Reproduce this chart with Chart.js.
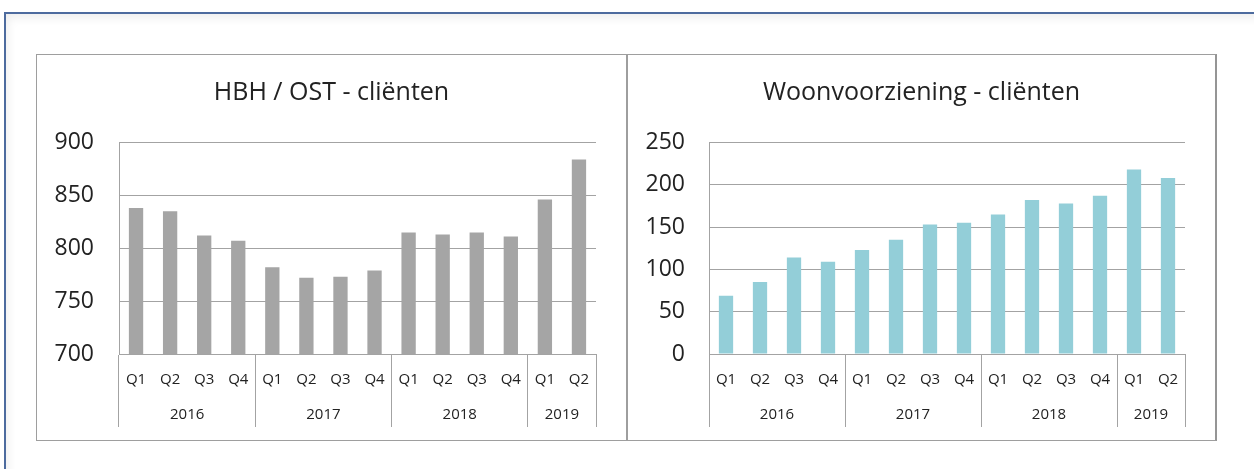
<!DOCTYPE html>
<html>
<head>
<meta charset="utf-8">
<script src="https://cdn.jsdelivr.net/npm/chart.js@4"></script>
<style>
  html, body { margin: 0; padding: 0; background: #fff; width: 1254px; height: 469px; overflow: hidden; }
  .frame {
    position: absolute; left: 4px; top: 12px; width: 1300px; height: 500px;
    border-top: 2px solid #4d6b9e; border-left: 2px solid #4d6b9e;
    box-shadow: inset 6px 8px 10px -4px rgba(0,0,0,0.07);
  }
  .box { position: absolute; top: 54px; height: 385px; border: 1px solid #9e9e9e; background: #fff; }
  #boxLeft { left: 36px; width: 589px; }
  #boxRight { left: 627px; width: 587px; border-right: 2px solid #959595; }
  canvas { display: block; }
</style>
</head>
<body>
<div class="frame"></div>
<div class="box" id="boxLeft"><canvas id="hbh" width="589" height="385"></canvas></div>
<div class="box" id="boxRight"><canvas id="woon" width="587" height="385"></canvas></div>
<script>
// data
const quarters = ["Q1", "Q2", "Q3", "Q4", "Q1", "Q2", "Q3", "Q4", "Q1", "Q2", "Q3", "Q4", "Q1", "Q2"];
const years = ["2016", "2017", "2018", "2019"];
const quartersPerYear = [4, 4, 4, 2];
const hbhValues = [838, 835, 812, 807, 782, 772, 773, 779, 815, 813, 815, 811, 846, 884];
const woonValues = [69, 85, 114, 109, 123, 135, 153, 155, 165, 182, 178, 187, 218, 208];

const gridGray = "#a3a3a3";
const textColor = "#222";
Chart.defaults.font.family = "'Open Sans', sans-serif";

// group boundaries (indices) and year centres on the category axis
const boundaries = [0];
const yearCenters = [];
quartersPerYear.forEach((n) => {
  const start = boundaries[boundaries.length - 1];
  yearCenters.push(start + (n - 1) / 2);
  boundaries.push(start + n);
});

const makeChart = (id, title, values, color, yMin, yMax, yWidth, yPad) => {
  return new Chart(document.getElementById(id), {
    type: "bar",
    data: {
      labels: quarters,
      datasets: [
        {
          label: title,
          data: values,
          backgroundColor: color,
          barPercentage: 0.42,
          categoryPercentage: 1,
        },
      ],
    },
    options: {
      responsive: false,
      animation: false,
      devicePixelRatio: 1,
      layout: { padding: 0 },
      plugins: {
        legend: { display: false },
        tooltip: { enabled: false },
        title: {
          display: true,
          text: title,
          color: textColor,
          font: { size: 25, weight: "normal" },
          padding: { top: 23, bottom: 34.5 },
        },
      },
      scales: {
        x: {
          type: "category",
          position: "bottom",
          weight: 0,
          grid: {
            offset: true,
            drawOnChartArea: false,
            drawTicks: true,
            tickLength: 73,
            color: (ctx) =>
              ctx.index === undefined || boundaries.includes(ctx.index) ? gridGray : "rgba(0,0,0,0)",
          },
          border: { display: true, color: gridGray },
          ticks: { color: textColor, font: { size: 15 }, padding: -56, autoSkip: false, maxRotation: 0 },
          afterFit: (s) => { s.height = 40; },
        },
        x2: {
          type: "linear",
          position: "bottom",
          weight: 1,
          offset: false,
          min: -0.5,
          max: quarters.length - 0.5,
          grid: { display: false, offset: false },
          border: { display: false },
          afterBuildTicks: (s) => { s.ticks = yearCenters.map((v) => ({ value: v })); },
          ticks: {
            color: textColor,
            font: { size: 15 },
            padding: 4,
            autoSkip: false,
            maxRotation: 0,
            callback: (v, i) => years[i],
          },
          afterFit: (s) => { s.height = 46; },
        },
        y: {
          min: yMin,
          max: yMax,
          grid: { color: gridGray, drawTicks: false },
          border: { display: true, color: gridGray },
          ticks: { stepSize: 50, color: textColor, font: { size: 23 }, padding: yPad },
          afterFit: (s) => { s.width = yWidth; },
        },
        yR: {
          type: "linear",
          position: "right",
          grid: { display: false },
          border: { display: false },
          ticks: { display: false },
          afterFit: (s) => { s.width = 30; },
        },
      },
    },
  });
};

makeChart("hbh", "HBH / OST - cliënten", hbhValues, "#a5a5a5", 700, 900, 82, 25);
makeChart("woon", "Woonvoorziening - cliënten", woonValues, "#93ced8", 0, 250, 81, 24);
</script>
</body>
</html>
